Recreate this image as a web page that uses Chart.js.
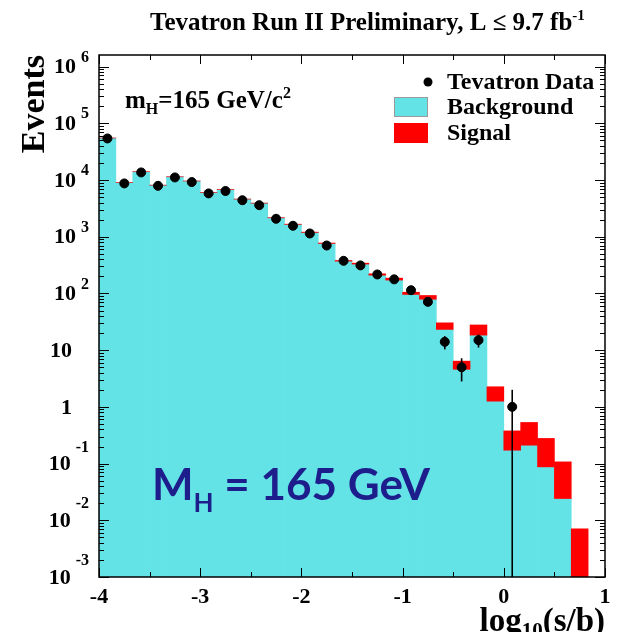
<!DOCTYPE html>
<html>
<head>
<meta charset="utf-8">
<script src="https://cdn.jsdelivr.net/npm/chart.js@4.4.1/dist/chart.umd.min.js"></script>
<style>
  html, body { margin: 0; padding: 0; background: #fff; }
</style>
</head>
<body>
<canvas id="llrChart" width="621" height="632"></canvas>
<script>
// log10(s/b) bin centres, bin width 1/6
const binCenters = [
  -3.9167, -3.75, -3.5833, -3.4167, -3.25, -3.0833, -2.9167, -2.75, -2.5833, -2.4167,
  -2.25, -2.0833, -1.9167, -1.75, -1.5833, -1.4167, -1.25, -1.0833, -0.9167, -0.75,
  -0.5833, -0.4167, -0.25, -0.0833, 0.0833, 0.25, 0.4167, 0.5833, 0.75,
];

// expected background per bin
const background = [
  55000, 9100, 14000, 8100, 11400, 9600, 6000, 6800, 4600, 3900,
  2150, 1650, 1190, 760, 371, 329, 210, 172, 96, 79,
  23.2, 4.6, 18.4, 1.26, 0.172, 0.211, 0.0875, 0.0242, 0.0009,
];

// expected signal (mH = 165 GeV), stacked on top of background
const signal = [
  6.7, 1.6, 3.7, 3.1, 6.4, 7.9, 7.3, 12, 12, 15,
  12, 13.6, 14.4, 13.6, 9.7, 12.6, 11.8, 14.2, 9, 13,
  7.1, 1.8, 9.4, 1.0, 0.205, 0.32, 0.19, 0.083, 0.0062,
];

// observed events (null = no entries)
const dataCounts = [
  54000, 8700, 13600, 7900, 11100, 9200, 5800, 6400, 4400, 3600,
  2070, 1560, 1140, 700, 376, 312, 216, 177, 114, 71,
  14, 5, 15, null, 1, null, null, null, null,
];
const dataErr = [
  232, 93, 117, 89, 105, 96, 76, 80, 66, 60,
  45, 39, 34, 26, 19, 18, 15, 13, 11, 8.4,
  3.7, 2.2, 3.9, null, 1, null, null, null, null,
];

const yDecades = [-3, -2, -1, 0, 1, 2, 3, 4, 5, 6];
const xTickLabels = ["-4", "-3", "-2", "-1", "0", "1"];

const SERIF = "'Liberation Serif', 'DejaVu Serif', serif";
const CYAN = "#63e3e6";
const RED = "#ff0000";

// draws a run of text pieces (sub/superscripts)
function richText(ctx, x, y, parts, align) {
  let w = 0;
  for (const p of parts) {
    ctx.font = p.font;
    p.w = ctx.measureText(p.text).width;
    w += p.w + (p.gap || 0);
  }
  let cx = align === "right" ? x - w : align === "center" ? x - w / 2 : x;
  for (const p of parts) {
    ctx.font = p.font;
    ctx.fillStyle = p.color || "#000";
    cx += p.gap || 0;
    ctx.fillText(p.text, cx, y + (p.dy || 0));
    cx += p.w;
  }
}

const rootStyle = {
  id: "rootStyle",
  afterDatasetsDraw(chart) {
    const { ctx, chartArea: a, scales: { x, y } } = chart;
    // error bars on data
    ctx.save();
    ctx.beginPath();
    ctx.rect(a.left, a.top, a.right - a.left, a.bottom - a.top);
    ctx.clip();
    ctx.strokeStyle = "#000";
    ctx.lineWidth = 1.6;
    binCenters.forEach((c, i) => {
      if (dataCounts[i] == null) return;
      const px = x.getPixelForValue(c);
      const lo = Math.max(dataCounts[i] - dataErr[i], 0);
      const hi = dataCounts[i] + dataErr[i];
      ctx.beginPath();
      ctx.moveTo(px, y.getPixelForValue(lo));
      ctx.lineTo(px, y.getPixelForValue(hi));
      ctx.stroke();
    });
    ctx.restore();
  },
  afterDraw(chart) {
    const { ctx, chartArea: a, scales: { x, y } } = chart;
    ctx.save();

    // x axis title (drawn first, tick labels sit on top of it)
    ctx.textBaseline = "alphabetic";
    ctx.textAlign = "left";
    richText(ctx, 605, 631, [
      { text: "log", font: "bold 33px " + SERIF },
      { text: "10", font: "bold 21px " + SERIF, dy: 6 },
      { text: "(s/b)", font: "bold 33px " + SERIF },
    ], "right");

    // frame
    ctx.strokeStyle = "#000";
    ctx.lineWidth = 1.5;
    ctx.strokeRect(a.left, a.top, a.right - a.left, a.bottom - a.top);

    // y ticks, both sides, inside the frame
    ctx.lineWidth = 1;
    ctx.beginPath();
    for (const k of yDecades.concat([-4])) {
      for (let m = 1; m <= 9; m++) {
        const v = m * Math.pow(10, k);
        if (v < y.min * 0.999 || v > y.max) continue;
        const py = Math.round(y.getPixelForValue(v)) + 0.5;
        const len = m === 1 ? 10 : 5;
        ctx.moveTo(a.left, py); ctx.lineTo(a.left + len, py);
        ctx.moveTo(a.right, py); ctx.lineTo(a.right - len, py);
      }
    }
    // x ticks every 0.5
    for (let t = -4; t <= 1; t += 0.5) {
      const px = Math.round(x.getPixelForValue(t)) + 0.5;
      const len = Number.isInteger(t) ? 9 : 5;
      ctx.moveTo(px, a.bottom); ctx.lineTo(px, a.bottom - len);
      ctx.moveTo(px, a.top); ctx.lineTo(px, a.top + len);
    }
    ctx.stroke();

    // x tick labels
    ctx.font = "bold 22px " + SERIF;
    ctx.fillStyle = "#000";
    ctx.textAlign = "center";
    ctx.textBaseline = "alphabetic";
    xTickLabels.forEach((lab) => {
      ctx.fillText(lab, x.getPixelForValue(Number(lab)), a.bottom + 26);
    });

    // y tick labels 10^k
    ctx.textBaseline = "middle";
    const base = "bold 22px " + SERIF;
    const sup = "bold 16px " + SERIF;
    for (const k of yDecades) {
      const py = y.getPixelForValue(Math.pow(10, k));
      if (k === 0 || k === 1) {
        ctx.font = base;
        ctx.textAlign = "right";
        ctx.fillStyle = "#000";
        ctx.fillText(k === 0 ? "1" : "10", 72, py + 1);
      } else {
        ctx.textAlign = "left";
        richText(ctx, 89, py + 1, [
          { text: "10", font: base },
          { text: String(k), font: sup, gap: 5, dy: k < 0 ? -17 : -10 },
        ], "right");
      }
    }

    ctx.textBaseline = "alphabetic";
    ctx.textAlign = "left";

    // header
    richText(ctx, 150, 30, [
      { text: "Tevatron Run II Preliminary, L \u2264 9.7 fb", font: "bold 25px " + SERIF },
      { text: "-1", font: "bold 15px " + SERIF, dy: -10 },
    ], "left");

    // mass label
    richText(ctx, 125, 108, [
      { text: "m", font: "bold 25px " + SERIF },
      { text: "H", font: "bold 16px " + SERIF, dy: 6 },
      { text: "=165 GeV/c", font: "bold 25px " + SERIF },
      { text: "2", font: "bold 16px " + SERIF, dy: -10 },
    ], "left");

    // big mass label
    const big = "bold 44px Lato, 'DejaVu Sans', sans-serif";
    richText(ctx, 152, 500, [
      { text: "M", font: big, color: "#1d1d8c" },
      { text: "H", font: "bold 26px Lato, 'DejaVu Sans', sans-serif", color: "#1d1d8c", dy: 12 },
      { text: " = 165 GeV", font: big, color: "#1d1d8c" },
    ], "left");

    // legend
    ctx.fillStyle = "#000";
    ctx.beginPath();
    ctx.arc(428, 82, 4.5, 0, Math.PI * 2);
    ctx.fill();
    ctx.fillStyle = CYAN;
    ctx.fillRect(394, 97, 34, 20);
    ctx.strokeStyle = "#9a9a9a";
    ctx.lineWidth = 1;
    ctx.strokeRect(394.5, 97.5, 33, 19);
    ctx.fillStyle = RED;
    ctx.fillRect(394, 123, 34, 20);
    ctx.font = "bold 24px " + SERIF;
    ctx.fillStyle = "#000";
    ctx.textBaseline = "middle";
    ctx.fillText("Tevatron Data", 447, 83);
    ctx.fillText("Background", 447, 108);
    ctx.fillText("Signal", 447, 134);

    ctx.restore();
  },
};

const barOpts = {
  grouped: false,
  barPercentage: 1,
  categoryPercentage: 1,
  borderWidth: 0,
};

new Chart(document.getElementById("llrChart"), {
  type: "bar",
  data: {
    datasets: [
      {
        type: "scatter",
        label: "Tevatron Data",
        data: binCenters
          .map((c, i) => ({ x: c, y: dataCounts[i] }))
          .filter((p) => p.y != null),
        backgroundColor: "#000",
        borderColor: "#000",
        pointRadius: 4.5,
        pointHoverRadius: 4.5,
        order: 0,
      },
      {
        ...barOpts,
        label: "Signal",
        data: binCenters.map((c, i) => ({ x: c, y: [background[i], background[i] + signal[i]] })),
        backgroundColor: RED,
        order: 1,
      },
      {
        ...barOpts,
        label: "Background",
        data: binCenters.map((c, i) => ({ x: c, y: background[i] })),
        backgroundColor: CYAN,
        order: 2,
      },
    ],
  },
  options: {
    responsive: false,
    animation: false,
    devicePixelRatio: 1,
    layout: { padding: { top: 55, right: 16, left: 0, bottom: 0 } },
    plugins: {
      legend: { display: false },
      tooltip: { enabled: false },
    },
    scales: {
      x: {
        type: "linear",
        offset: false,
        min: -4,
        max: 1,
        grid: { display: false, drawTicks: false },
        border: { display: false },
        ticks: { display: false },
        afterFit: (s) => { s.height = 55; },
      },
      y: {
        type: "logarithmic",
        min: 1e-3,
        max: 1.6e6,
        grid: { display: false, drawTicks: false },
        border: { display: false },
        ticks: { display: false },
        title: {
          display: true,
          text: "Events",
          align: "end",
          color: "#000",
          font: { family: SERIF, weight: "bold", size: 34 },
          padding: { top: 15, bottom: 0 },
        },
        afterFit: (s) => { s.width = 99; },
      },
    },
  },
  plugins: [rootStyle],
});
</script>
</body>
</html>
